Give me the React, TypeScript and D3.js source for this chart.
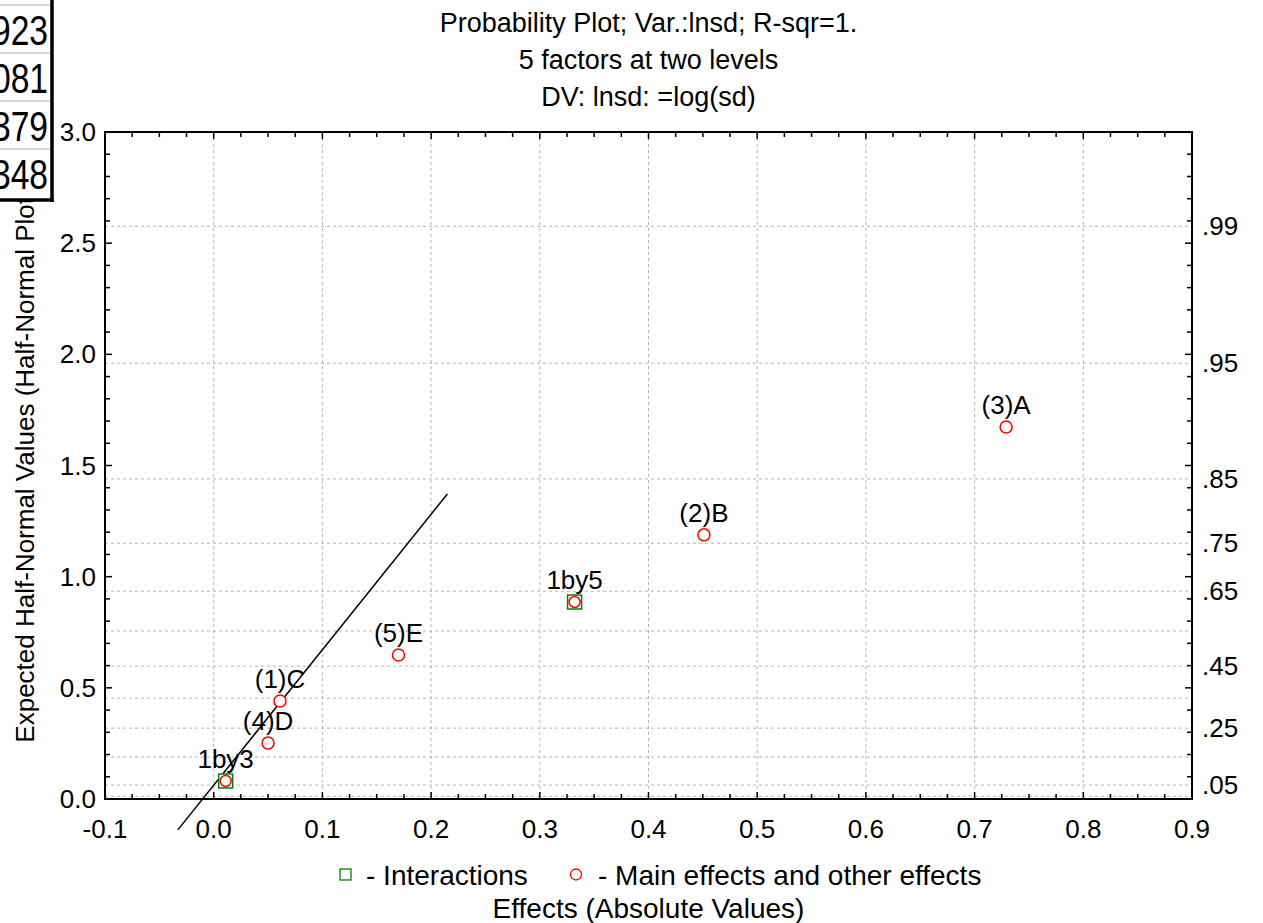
import React from "react";
import * as d3 from "d3";

// Half-normal probability plot of effect estimates
const titleLines = [
  "Probability Plot; Var.:lnsd; R-sqr=1.",
  "5 factors at two levels",
  "DV: lnsd: =log(sd)",
];

const effectNames = ["1by3", "(4)D", "(1)C", "(5)E", "1by5", "(2)B", "(3)A"];
const effectValues = [0.011, 0.05, 0.061, 0.17, 0.332, 0.451, 0.729];
const expectedValues = [0.081, 0.252, 0.441, 0.648, 0.886, 1.188, 1.673];
const isInteraction = [true, false, false, false, true, false, false];

// Reference line endpoints (effect, expected value)
const fitLineX = [-0.033, 0.215];
const fitLineY = [-0.139, 1.372];

const xTickValues = [-0.1, 0, 0.1, 0.2, 0.3, 0.4, 0.5, 0.6, 0.7, 0.8, 0.9];
const xTickLabels = ["-0.1", "0.0", "0.1", "0.2", "0.3", "0.4", "0.5", "0.6", "0.7", "0.8", "0.9"];
const yTickValues = [0, 0.5, 1, 1.5, 2, 2.5, 3];
const yTickLabels = ["0.0", "0.5", "1.0", "1.5", "2.0", "2.5", "3.0"];

// Cumulative probability grid on the right-hand axis
const probGrid = [0.01, 0.05, 0.15, 0.25, 0.35, 0.45, 0.55, 0.65, 0.75, 0.85, 0.95, 0.99];
const probLabelValues = [0.05, 0.25, 0.45, 0.65, 0.75, 0.85, 0.95, 0.99];
const probLabels = [".05", ".25", ".45", ".65", ".75", ".85", ".95", ".99"];

const legendLabels = ["- Interactions", "- Main effects and other effects"];
const xTitle = "Effects (Absolute Values)";
const yTitle = "Expected Half-Normal Values (Half-Normal Plot)";

// Partially visible panel in the upper-left corner
const sideTableValues = ["923", "081", "379", "348"];

const FONT = "'Liberation Sans', Arial, sans-serif";
const GREEN = "#008000";
const RED = "#ff0000";

// Acklam's inverse standard normal CDF
function invNorm(p: number): number {
  const a = [-3.969683028665376e1, 2.209460984245205e2, -2.759285104469687e2, 1.38357751867269e2, -3.066479806614716e1, 2.506628277459239];
  const b = [-5.447609879822406e1, 1.615858368580409e2, -1.556989798598866e2, 6.680131188771972e1, -1.328068155288572e1];
  const c = [-7.784894002430293e-3, -3.223964580411365e-1, -2.400758277161838, -2.549732539343734, 4.374664141464968, 2.938163982698783];
  const d = [7.784695709041462e-3, 3.224671290700398e-1, 2.445134137142996, 3.754408661907416];
  const pl = 0.02425;
  if (p < pl) {
    const q = Math.sqrt(-2 * Math.log(p));
    return (((((c[0] * q + c[1]) * q + c[2]) * q + c[3]) * q + c[4]) * q + c[5]) / ((((d[0] * q + d[1]) * q + d[2]) * q + d[3]) * q + 1);
  }
  if (p > 1 - pl) {
    const q = Math.sqrt(-2 * Math.log(1 - p));
    return -(((((c[0] * q + c[1]) * q + c[2]) * q + c[3]) * q + c[4]) * q + c[5]) / ((((d[0] * q + d[1]) * q + d[2]) * q + d[3]) * q + 1);
  }
  const q = p - 0.5;
  const r = q * q;
  return ((((((a[0] * r + a[1]) * r + a[2]) * r + a[3]) * r + a[4]) * r + a[5]) * q) / (((((b[0] * r + b[1]) * r + b[2]) * r + b[3]) * r + b[4]) * r + 1);
}
const halfNormal = (p: number) => invNorm((1 + p) / 2);

export default function App() {
  const W = 1263;
  const H = 923;
  const left = 105;
  const right = 1192;
  const top = 132;
  const bottom = 799;

  const x = d3.scaleLinear().domain([-0.1, 0.9]).range([left, right]);
  const y = d3.scaleLinear().domain([0, 3]).range([bottom, top]);

  const xMinor = d3.range(0, 41).map((i) => -0.1 + i * 0.025);
  const yMinor = d3.range(0, 31).map((i) => i * 0.1);
  const isMajorX = (v: number) => Math.abs(v * 10 - Math.round(v * 10)) < 1e-6;
  const isMajorY = (v: number) => Math.abs(v * 2 - Math.round(v * 2)) < 1e-6;

  const line = d3
    .line<number>()
    .x((_, i) => x(fitLineX[i]))
    .y((_, i) => y(fitLineY[i]));

  const fsTick = 26;
  const fsTitle = 27;
  const fsLegend = 28;
  const rowH = 48;

  return (
    <svg
      width={W}
      height={H}
      style={{ position: "absolute", left: 0, top: 0, background: "#fff" }}
      fontFamily={FONT}
    >
      <rect x={0} y={0} width={W} height={H} fill="#fff" />

      {/* titles */}
      {titleLines.map((t, i) => (
        <text key={t} x={(left + right) / 2} y={32 + i * 37} textAnchor="middle" fontSize={fsTitle} fill="#000">
          {t}
        </text>
      ))}

      {/* vertical grid */}
      {xTickValues
        .filter((v) => v > -0.1 + 1e-6 && v < 0.9 - 1e-6)
        .map((v) => (
          <line key={"gx" + v} x1={x(v)} x2={x(v)} y1={top} y2={bottom} stroke="#b4b4b4" strokeWidth={1} strokeDasharray="3,3" />
        ))}
      {/* horizontal probability grid */}
      {probGrid.map((p) => (
        <line key={"gy" + p} x1={left} x2={right} y1={y(halfNormal(p))} y2={y(halfNormal(p))} stroke="#b4b4b4" strokeWidth={1} strokeDasharray="3,3" />
      ))}

      {/* ticks */}
      {xMinor.map((v, i) => {
        const len = isMajorX(v) ? 7 : 5;
        return (
          <g key={"tx" + i}>
            <line x1={x(v)} x2={x(v)} y1={bottom} y2={bottom - len} stroke="#000" strokeWidth={1.5} />
            <line x1={x(v)} x2={x(v)} y1={top} y2={top + len} stroke="#000" strokeWidth={1.5} />
          </g>
        );
      })}
      {yMinor.map((v, i) => {
        const len = isMajorY(v) ? 7 : 5;
        return (
          <g key={"ty" + i}>
            <line x1={left} x2={left + len} y1={y(v)} y2={y(v)} stroke="#000" strokeWidth={1.5} />
            <line x1={right} x2={right - len} y1={y(v)} y2={y(v)} stroke="#000" strokeWidth={1.5} />
          </g>
        );
      })}

      {/* frame */}
      <rect x={left} y={top} width={right - left} height={bottom - top} fill="none" stroke="#000" strokeWidth={2} />

      {/* tick labels */}
      {xTickValues.map((v, i) => (
        <text key={"lx" + i} x={x(v)} y={bottom + 39} textAnchor="middle" fontSize={fsTick}>
          {xTickLabels[i]}
        </text>
      ))}
      {yTickValues.map((v, i) => (
        <text key={"ly" + i} x={left - 9} y={y(v) + 9} textAnchor="end" fontSize={fsTick}>
          {yTickLabels[i]}
        </text>
      ))}
      {probLabelValues.map((p, i) => (
        <text key={"lp" + i} x={right + 10} y={y(halfNormal(p)) + 9} textAnchor="start" fontSize={fsTick}>
          {probLabels[i]}
        </text>
      ))}

      {/* fitted reference line */}
      <path d={line([0, 1]) || ""} fill="none" stroke="#000" strokeWidth={1.5} />

      {/* points */}
      {effectValues.map((v, i) => {
        const cx = x(v);
        const cy = y(expectedValues[i]);
        return (
          <g key={"pt" + i}>
            {isInteraction[i] && (
              <rect x={cx - 7} y={cy - 7} width={14} height={14} fill="#fff" stroke={GREEN} strokeWidth={1.5} />
            )}
            <circle cx={cx} cy={cy} r={isInteraction[i] ? 5.5 : 6} fill="#fff" stroke={RED} strokeWidth={1.5} />
            <text x={cx} y={cy - 13} textAnchor="middle" fontSize={fsTick}>
              {effectNames[i]}
            </text>
          </g>
        );
      })}

      {/* legend */}
      <rect x={340} y={869} width={11} height={11} fill="none" stroke={GREEN} strokeWidth={1.3} />
      <text x={366} y={885} fontSize={fsLegend}>
        {legendLabels[0]}
      </text>
      <circle cx={576} cy={874.5} r={5.5} fill="none" stroke={RED} strokeWidth={1.3} />
      <text x={598} y={885} fontSize={fsLegend}>
        {legendLabels[1]}
      </text>

      {/* axis titles */}
      <text x={(left + right) / 2} y={918} textAnchor="middle" fontSize={fsLegend}>
        {xTitle}
      </text>
      <text
        transform={`translate(34,${(top + bottom) / 2}) rotate(-90)`}
        textAnchor="middle"
        fontSize={fsTick}
      >
        {yTitle}
      </text>

      {/* side panel overlapping the corner */}
      <g>
        <rect x={-10} y={-10} width={62} height={210} fill="#fff" />
        {sideTableValues.map((t, i) => (
          <g key={"tb" + i}>
            <line x1={-10} x2={50} y1={5 + i * rowH} y2={5 + i * rowH} stroke="#c8c8c8" strokeWidth={1.5} />
            <text
              transform={`translate(48,${45 + i * rowH}) scale(0.8,1)`}
              textAnchor="end"
              fontSize={42}
            >
              {t}
            </text>
          </g>
        ))}
        <line x1={52} x2={52} y1={-10} y2={202} stroke="#000" strokeWidth={3.5} />
        <line x1={-10} x2={53.5} y1={200} y2={200} stroke="#000" strokeWidth={3.5} />
      </g>
    </svg>
  );
}
